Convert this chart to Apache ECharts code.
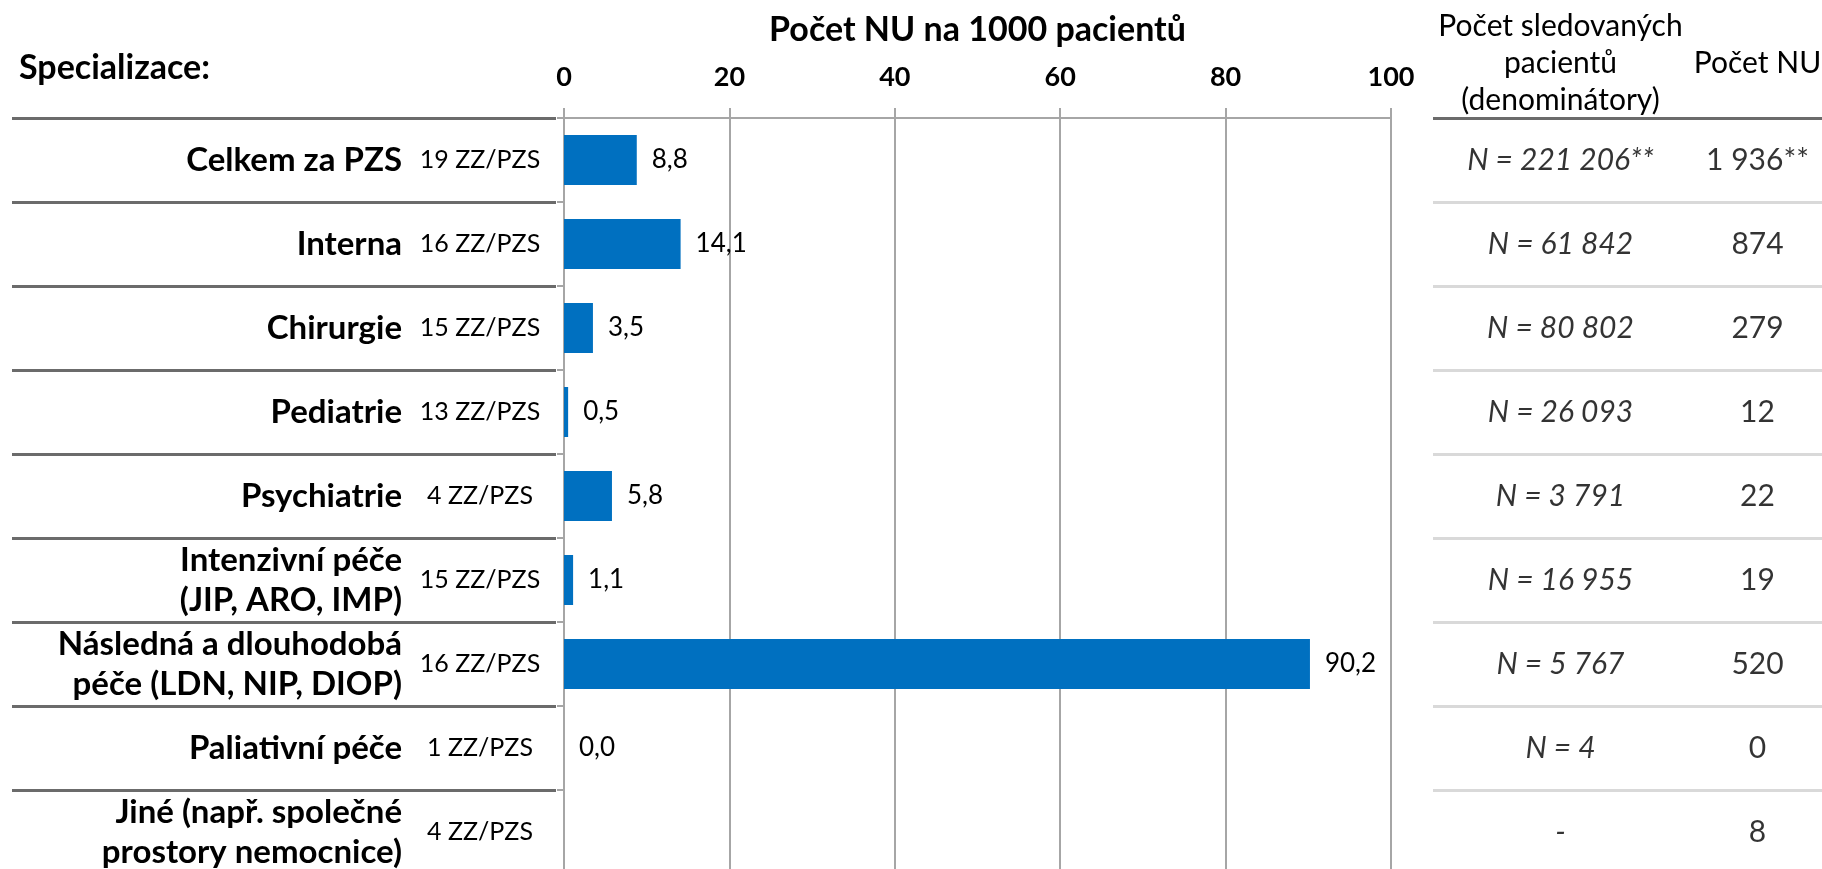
<!DOCTYPE html>
<html>
<head>
<meta charset="utf-8">
<script src="https://cdn.jsdelivr.net/npm/echarts@6/dist/echarts.min.js"></script>
<style>
  html, body { margin: 0; padding: 0; background: #fff; }
  #chart { width: 1822px; height: 869px; }
</style>
</head>
<body>
<div id="chart"></div>
<script>
// NU per 1000 patients by speciality, with the denominator table on the right.

const categories = [
  'Celkem za PZS',
  'Interna',
  'Chirurgie',
  'Pediatrie',
  'Psychiatrie',
  'Intenzivní péče\n(JIP, ARO, IMP)',
  'Následná a dlouhodobá\npéče (LDN, NIP, DIOP)',
  'Paliativní péče',
  'Jiné (např. společné\nprostory nemocnice)'
];
const facilities = [
  '19 ZZ/PZS', '16 ZZ/PZS', '15 ZZ/PZS', '13 ZZ/PZS', '4 ZZ/PZS',
  '15 ZZ/PZS', '16 ZZ/PZS', '1 ZZ/PZS', '4 ZZ/PZS'
];
const ratePer1000 = [8.8, 14.1, 3.5, 0.5, 5.8, 1.1, 90.2, 0.0, '-'];
const denominators = [
  'N = 221 206**', 'N = 61 842', 'N = 80 802', 'N = 26 093', 'N = 3 791',
  'N = 16 955', 'N = 5 767', 'N = 4', '-'
];
const nuCounts = ['1 936**', '874', '279', '12', '22', '19', '520', '0', '8'];
const tableHeaders = ['Počet sledovaných\npacientů\n(denominátory)', 'Počet NU'];
const xTicks = { min: 0, max: 100, interval: 20 };

const FONT = 'Lato';
const GRID_GRAY = '#a6a6a6';
const SEP_DARK = '#6b6b6b';
const SEP_LIGHT = '#d9d9d9';
const BLUE = '#0070C0';

// Rows share one vertical layout across the three panels; the last row runs
// past the bottom edge like in the original slide.
const ROW_TOP = 118, ROW_H = 756;
const rowIdx = categories.map((_, i) => i);
const gridBase = { top: ROW_TOP, height: ROW_H, outerBoundsMode: 'none', containLabel: false };

const chart = echarts.init(document.getElementById('chart'));
chart.setOption({
  animation: false,
  textStyle: { fontFamily: FONT },
  title: [{
    text: 'Specializace:', left: 14, top: 46,
    textStyle: { fontFamily: FONT, fontSize: 34, fontWeight: 'bold', color: '#000' }
  }],
  grid: [
    { ...gridBase, left: 564, width: 827 },   // bars
    { ...gridBase, left: 12, width: 544 },    // left row separators
    { ...gridBase, left: 1433, width: 389 },  // table separators
    { ...gridBase, left: 1462, width: 394 }   // table text
  ],
  xAxis: [
    {
      gridIndex: 0, type: 'value', position: 'top',
      min: xTicks.min, max: xTicks.max, interval: xTicks.interval,
      name: 'Počet NU na 1000 pacientů', nameLocation: 'middle', nameGap: 71,
      nameTextStyle: { fontFamily: FONT, fontSize: 34, fontWeight: 'bold', color: '#000' },
      axisLine: { show: true, lineStyle: { color: GRID_GRAY, width: 2 } },
      axisTick: { show: true, length: 10, lineStyle: { color: GRID_GRAY, width: 2 } },
      axisLabel: { fontFamily: FONT, fontSize: 27, fontWeight: 'bold', color: '#000', margin: 27 },
      splitLine: { show: true, lineStyle: { color: GRID_GRAY, width: 2 } }
    },
    { gridIndex: 1, type: 'value', min: 0, max: 1, show: false },
    { gridIndex: 2, type: 'value', min: 0, max: 1, show: false },
    {
      gridIndex: 3, type: 'category', position: 'top', data: tableHeaders,
      axisLine: { show: false }, axisTick: { show: false }, splitLine: { show: false },
      axisLabel: {
        interval: 0, fontFamily: FONT, fontSize: 30, lineHeight: 37, color: '#000',
        verticalAlign: 'middle', margin: 55
      }
    }
  ],
  yAxis: [
    {
      gridIndex: 0, type: 'category', inverse: true, data: categories,
      axisLine: { show: true, lineStyle: { color: GRID_GRAY, width: 2 } },
      axisTick: { show: true, length: 7, lineStyle: { color: GRID_GRAY, width: 2 } },
      axisLabel: {
        interval: 0, fontFamily: FONT, fontSize: 33, fontWeight: 'bold', color: '#000',
        lineHeight: 40, align: 'right', margin: 162
      },
      splitLine: { show: false }
    },
    {
      gridIndex: 0, type: 'category', inverse: true, position: 'left', data: facilities,
      axisLine: { show: false }, axisTick: { show: false }, splitLine: { show: false },
      axisLabel: {
        interval: 0, fontFamily: FONT, fontSize: 25, color: '#000',
        align: 'center', margin: 84
      }
    },
    {
      gridIndex: 1, type: 'category', inverse: true, data: rowIdx,
      axisLine: { show: false }, axisTick: { show: false }, axisLabel: { show: false },
      splitLine: { show: true, interval: 0, lineStyle: { color: SEP_DARK, width: 3 } }
    },
    {
      gridIndex: 2, type: 'category', inverse: true, data: rowIdx,
      axisLine: { show: false }, axisTick: { show: false }, axisLabel: { show: false },
      splitLine: {
        show: true, interval: 0,
        lineStyle: { color: [SEP_DARK].concat(rowIdx.map(() => SEP_LIGHT)), width: 3 }
      }
    },
    { gridIndex: 3, type: 'category', inverse: true, data: rowIdx, show: false }
  ],
  series: [
    {
      type: 'bar', xAxisIndex: 0, yAxisIndex: 0,
      data: ratePer1000, barWidth: 50,
      itemStyle: { color: BLUE },
      label: {
        show: true, position: 'right', distance: 15,
        fontFamily: FONT, fontSize: 26, color: '#000',
        formatter: (p) => Number(p.value).toFixed(1).replace('.', ',')
      }
    },
    {
      type: 'scatter', xAxisIndex: 3, yAxisIndex: 4, symbolSize: 0, clip: false,
      data: rowIdx.map(i => [0, i]),
      label: {
        show: true, position: 'inside',
        fontFamily: FONT, fontSize: 30, fontStyle: 'italic', color: '#000',
        formatter: (p) => denominators[p.dataIndex]
      }
    },
    {
      type: 'scatter', xAxisIndex: 3, yAxisIndex: 4, symbolSize: 0, clip: false,
      data: rowIdx.map(i => [1, i]),
      label: {
        show: true, position: 'inside',
        fontFamily: FONT, fontSize: 30, color: '#000',
        formatter: (p) => nuCounts[p.dataIndex]
      }
    }
  ]
});
</script>
</body>
</html>
